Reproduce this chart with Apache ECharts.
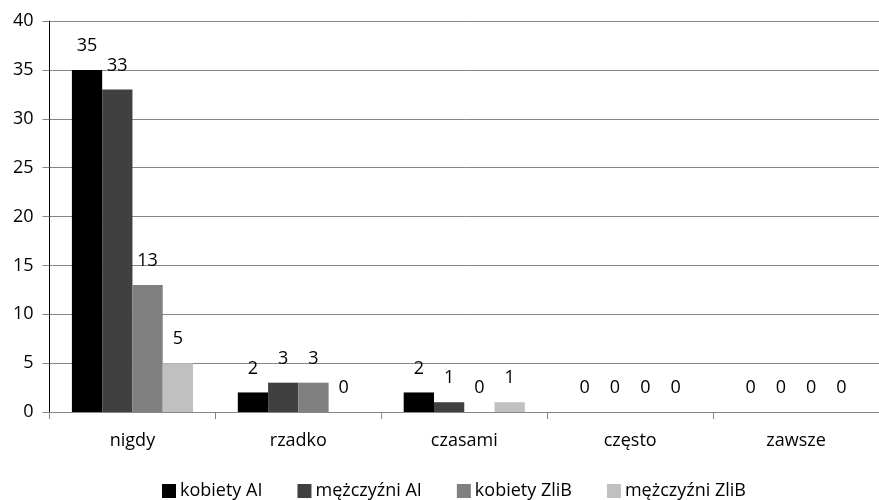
<!DOCTYPE html>
<html><head><meta charset="utf-8">
<script src="https://cdn.jsdelivr.net/npm/echarts@6/dist/echarts.min.js"></script>
<style>html,body{margin:0;padding:0;background:#fff}#c{width:879px;height:500px}</style>
</head><body><div id="c"></div>
<script>
const categories = ['nigdy', 'rzadko', 'czasami', 'często', 'zawsze'];
const seriesNames = ['kobiety AI', 'mężczyźni AI', 'kobiety ZliB', 'mężczyźni ZliB'];
const kobietyAI = [35, 2, 2, 0, 0];
const mezczyzniAI = [33, 3, 1, 0, 0];
const kobietyZliB = [13, 3, 0, 0, 0];
const mezczyzniZliB = [5, 0, 1, 0, 0];
const colors = ['#000000', '#404040', '#808080', '#c0c0c0'];
const FONT = '"Open Sans", "Noto Sans", sans-serif';

const values = [kobietyAI, mezczyzniAI, kobietyZliB, mezczyzniZliB];
const chart = echarts.init(document.getElementById('c'));
chart.setOption({
  animation: false,
  textStyle: { fontFamily: FONT },
  grid: { left: 49.5, width: 837, top: 21, height: 391, containLabel: false },
  legend: {
    top: 477, left: 157, itemWidth: 14, itemHeight: 14, itemGap: 35,
    icon: 'rect',
    textStyle: { fontFamily: FONT, fontSize: 18, color: '#000', padding: [0, 0, 0, -1] },
    data: seriesNames
  },
  xAxis: {
    type: 'category', data: categories,
    axisLine: { lineStyle: { color: '#868686', width: 1 } },
    axisTick: { show: true, length: 7, lineStyle: { color: '#868686' } },
    axisLabel: { fontFamily: FONT, fontSize: 18, color: '#000', margin: 20 }
  },
  yAxis: {
    type: 'value', min: 0, max: 40, interval: 5,
    axisLine: { show: true, lineStyle: { color: '#000', width: 1 } },
    axisTick: { show: true, length: 7, lineStyle: { color: '#868686' } },
    splitLine: { lineStyle: { color: '#868686', width: 1 } },
    axisLabel: { fontFamily: FONT, fontSize: 18, color: '#000', margin: 16 }
  },
  series: values.map((v, i) => ({
    name: seriesNames[i], type: 'bar', data: v,
    barGap: '0%', barCategoryGap: '27%',
    itemStyle: { color: colors[i] },
    label: { show: true, position: 'top', distance: 15, fontFamily: FONT, fontSize: 18, color: '#000' }
  }))
});
</script></body></html>
